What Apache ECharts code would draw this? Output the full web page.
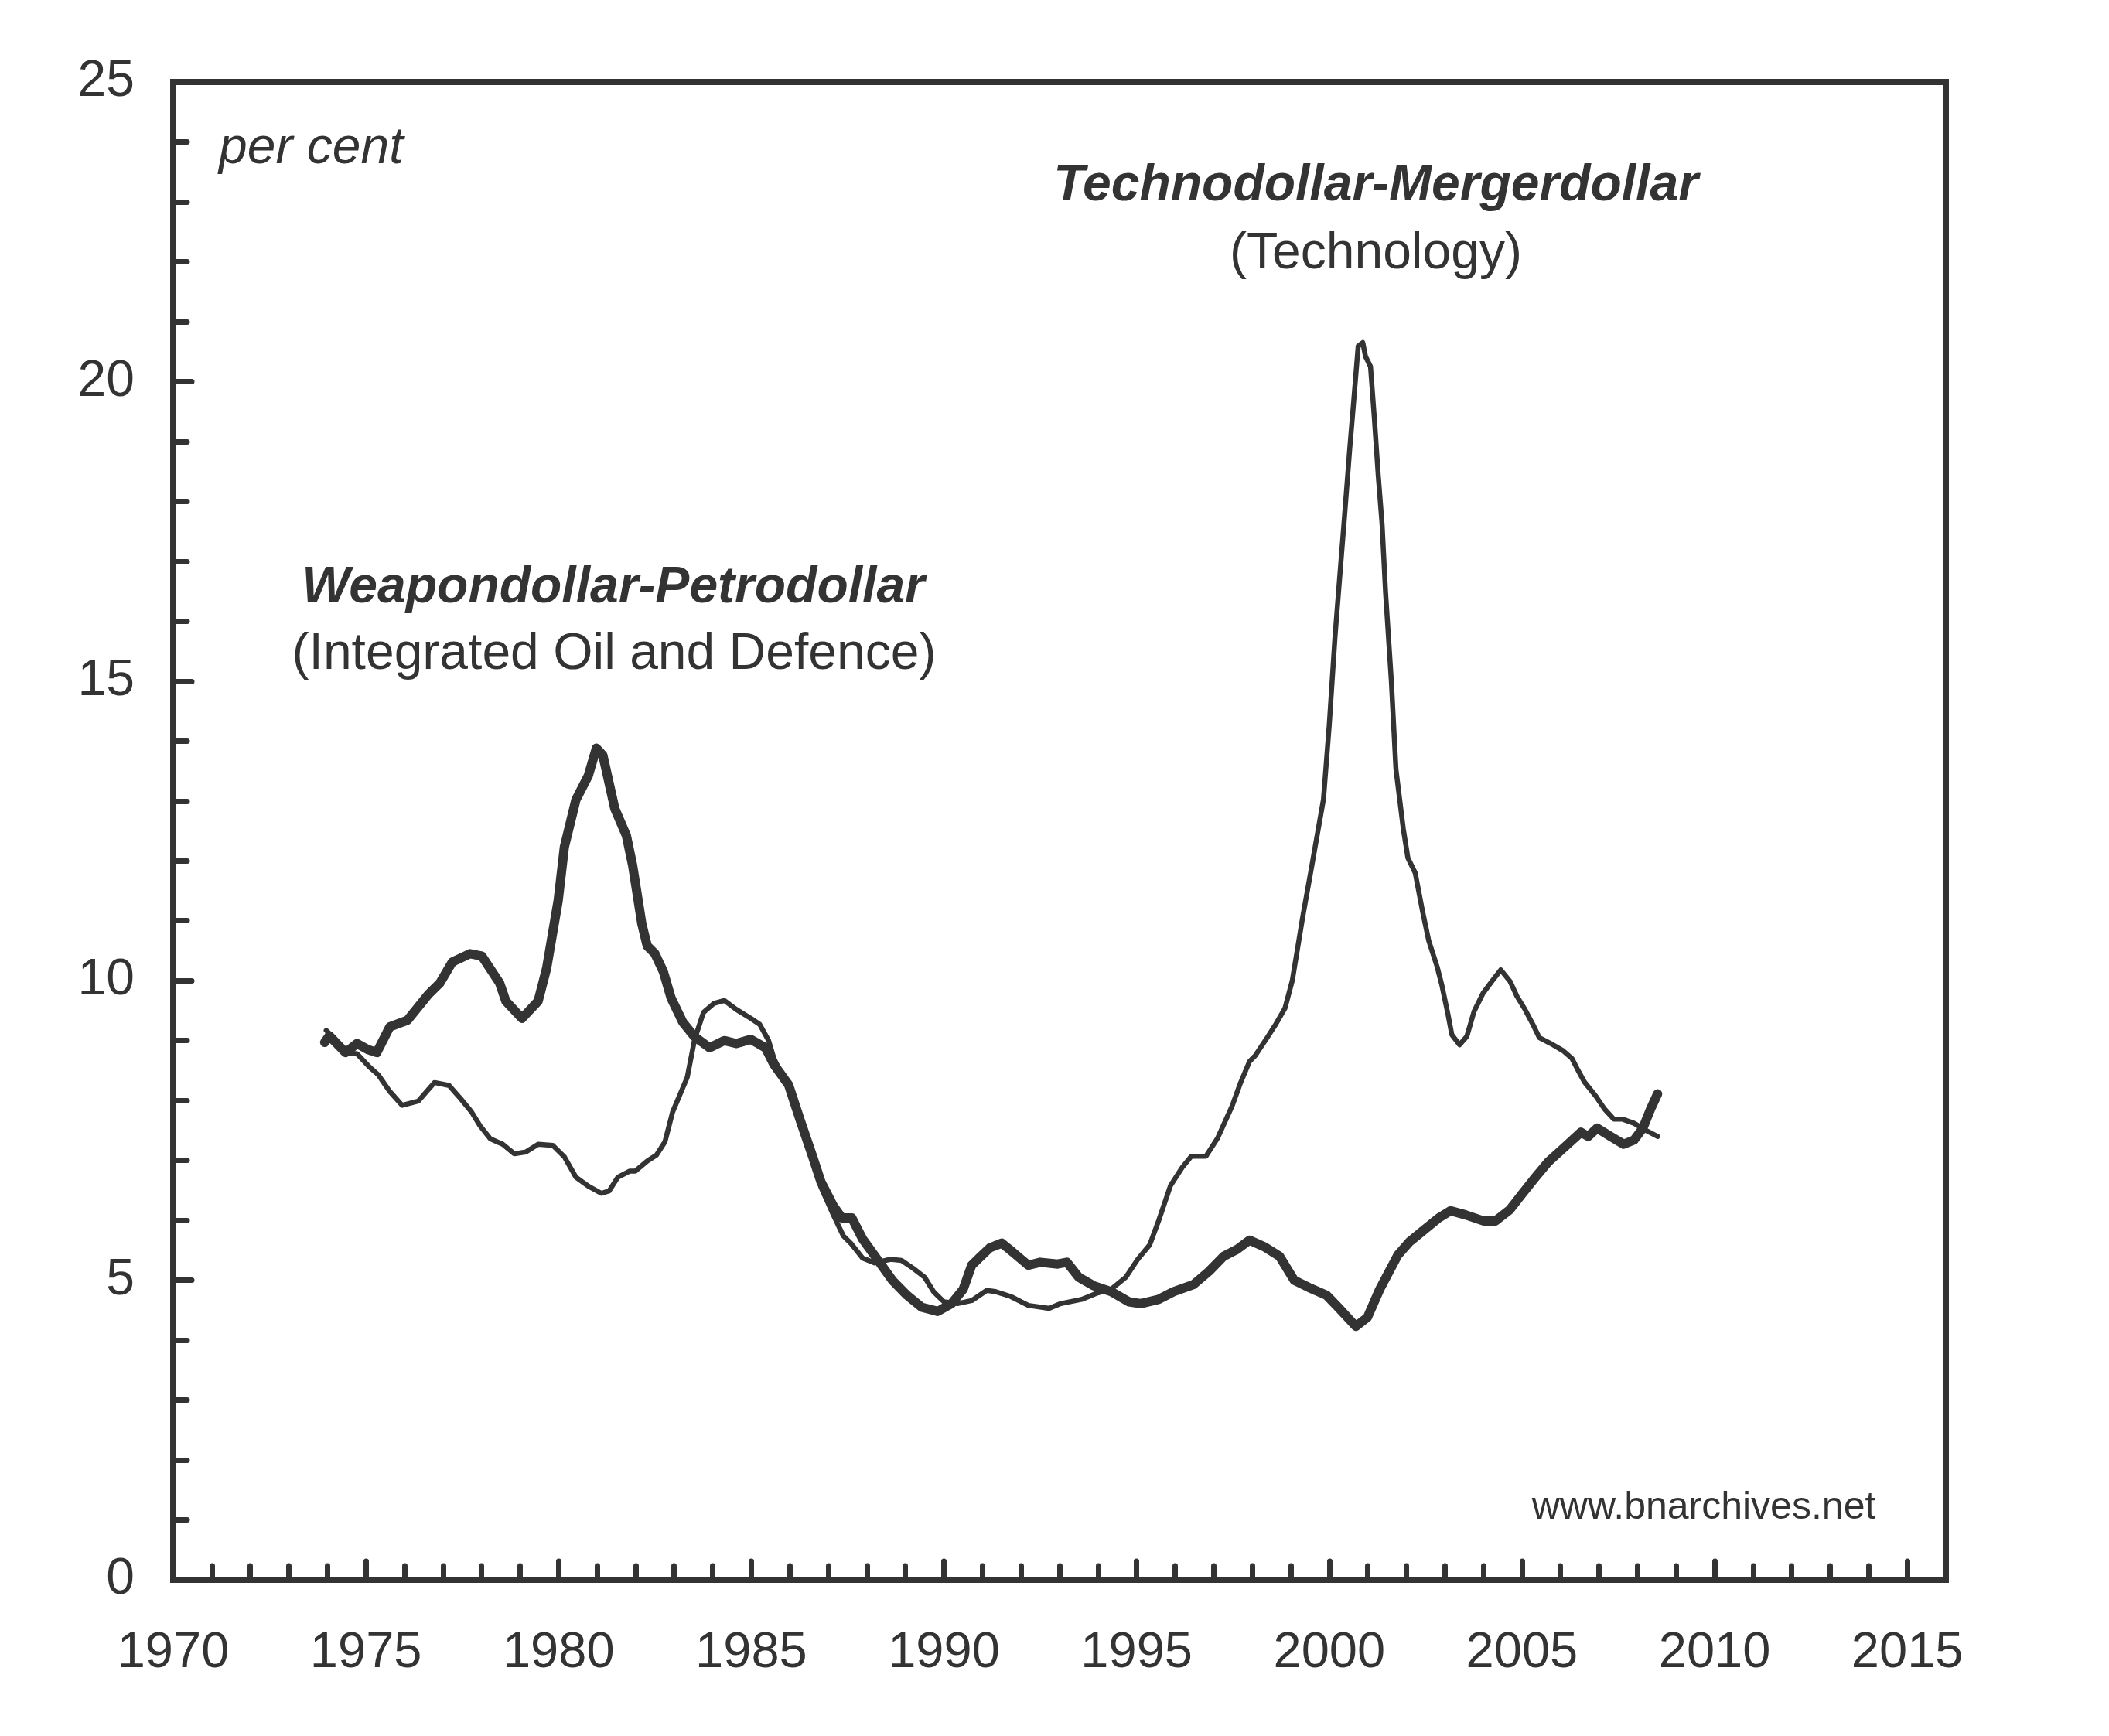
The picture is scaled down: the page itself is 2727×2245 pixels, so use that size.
<!DOCTYPE html>
<html>
<head>
<meta charset="utf-8">
<title>Weapondollar-Petrodollar vs Technodollar-Mergerdollar</title>
<script src="https://cdn.jsdelivr.net/npm/echarts@6/dist/echarts.min.js"></script>
<style>
    html, body { margin: 0; padding: 0; background: #fff; }
    #chart { width: 2727px; height: 2245px; }
</style>
</head>
<body>
<div id="chart"></div>
<script>
// Weapondollar-Petrodollar (thick line)
var oilYears = [1973.93, 1974.05, 1974.47, 1974.77, 1975.05, 1975.28, 1975.62, 1976.08, 1976.62, 1976.92,
    1977.24, 1977.70, 1978.01, 1978.47, 1978.63, 1979.05, 1979.47, 1979.69, 1979.99, 1980.15,
    1980.45, 1980.77, 1980.98, 1981.15, 1981.46, 1981.76, 1981.92, 1982.16, 1982.30, 1982.50,
    1982.72, 1982.92, 1983.22, 1983.52, 1983.92, 1984.30, 1984.61, 1984.99, 1985.37, 1985.59,
    1985.97, 1986.27, 1986.59, 1986.81, 1987.13, 1987.35, 1987.61, 1987.89, 1988.27, 1988.66,
    1989.04, 1989.42, 1989.84, 1990.20, 1990.50, 1990.72, 1990.96, 1991.19, 1991.50, 1991.73,
    1992.19, 1992.50, 1992.95, 1993.19, 1993.50, 1993.88, 1994.34, 1994.80, 1995.11, 1995.57,
    1995.96, 1996.48, 1996.88, 1997.26, 1997.62, 1997.93, 1998.31, 1998.71, 1999.09, 1999.47,
    1999.93, 2000.23, 2000.69, 2000.99, 2001.31, 2001.78, 2002.08, 2002.46, 2002.84, 2003.15,
    2003.54, 2004.00, 2004.31, 2004.69, 2004.99, 2005.30, 2005.69, 2006.07, 2006.53, 2006.72,
    2006.95, 2007.30, 2007.64, 2007.91, 2008.14, 2008.34, 2008.52];
var oilValues = [8.97, 9.08, 8.80, 8.95, 8.85, 8.80, 9.23, 9.34, 9.77, 9.96,
    10.31, 10.45, 10.41, 9.96, 9.66, 9.37, 9.66, 10.21, 11.34, 12.23,
    13.02, 13.42, 13.88, 13.76, 12.87, 12.42, 11.93, 10.95, 10.58, 10.45,
    10.15, 9.71, 9.31, 9.07, 8.88, 9.00, 8.95, 9.02, 8.88, 8.60,
    8.26, 7.67, 7.07, 6.64, 6.24, 6.04, 6.04, 5.69, 5.35, 5.00,
    4.75, 4.55, 4.48, 4.61, 4.85, 5.25, 5.40, 5.54, 5.62, 5.50,
    5.25, 5.30, 5.27, 5.30, 5.05, 4.91, 4.81, 4.64, 4.61, 4.68,
    4.81, 4.93, 5.15, 5.40, 5.52, 5.67, 5.56, 5.40, 5.00, 4.88,
    4.75, 4.55, 4.23, 4.38, 4.85, 5.42, 5.64, 5.84, 6.04, 6.16,
    6.09, 5.99, 5.99, 6.18, 6.43, 6.68, 6.98, 7.20, 7.47, 7.40,
    7.54, 7.40, 7.27, 7.34, 7.54, 7.86, 8.11];

// Technodollar-Mergerdollar (thin line)
var techYears = [1973.97, 1974.23, 1974.47, 1974.77, 1975.09, 1975.32, 1975.62, 1975.94, 1976.36, 1976.78,
    1977.16, 1977.46, 1977.74, 1977.96, 1978.23, 1978.55, 1978.85, 1979.15, 1979.47, 1979.85,
    1980.15, 1980.45, 1980.77, 1981.11, 1981.31, 1981.54, 1981.84, 1981.99, 1982.30, 1982.54,
    1982.76, 1982.96, 1983.15, 1983.34, 1983.53, 1983.76, 1984.03, 1984.30, 1984.61, 1984.99,
    1985.22, 1985.45, 1985.59, 1985.97, 1986.27, 1986.59, 1986.81, 1987.13, 1987.39, 1987.58,
    1987.89, 1988.20, 1988.62, 1988.90, 1989.20, 1989.50, 1989.73, 1990.00, 1990.35, 1990.72,
    1991.11, 1991.34, 1991.73, 1992.19, 1992.73, 1993.03, 1993.57, 1993.95, 1994.34, 1994.72,
    1995.03, 1995.34, 1995.57, 1995.88, 1996.18, 1996.42, 1996.80, 1997.10, 1997.48, 1997.70,
    1997.93, 1998.08, 1998.39, 1998.59, 1998.85, 1999.04, 1999.31, 1999.54, 1999.85, 2000.00,
    2000.15, 2000.27, 2000.39, 2000.53, 2000.63, 2000.75, 2000.87, 2000.94, 2001.07, 2001.17,
    2001.27, 2001.37, 2001.46, 2001.61, 2001.73, 2001.92, 2002.04, 2002.23, 2002.42, 2002.58,
    2002.80, 2002.92, 2003.08, 2003.18, 2003.38, 2003.57, 2003.76, 2003.99, 2004.22, 2004.45,
    2004.69, 2004.87, 2005.06, 2005.30, 2005.45, 2005.75, 2006.07, 2006.30, 2006.45, 2006.62,
    2006.92, 2007.14, 2007.38, 2007.60, 2007.91, 2008.22, 2008.52];
var techValues = [9.17, 9.00, 8.80, 8.78, 8.56, 8.43, 8.15, 7.92, 7.99, 8.30,
    8.25, 8.03, 7.81, 7.58, 7.36, 7.27, 7.11, 7.14, 7.27, 7.25,
    7.06, 6.72, 6.57, 6.45, 6.49, 6.72, 6.82, 6.82, 6.99, 7.09,
    7.31, 7.81, 8.10, 8.39, 9.02, 9.47, 9.62, 9.67, 9.52, 9.37,
    9.27, 9.00, 8.70, 8.20, 7.60, 7.00, 6.55, 6.09, 5.74, 5.62,
    5.37, 5.29, 5.35, 5.33, 5.20, 5.05, 4.81, 4.64, 4.61, 4.66,
    4.83, 4.81, 4.73, 4.58, 4.53, 4.61, 4.68, 4.78, 4.85, 5.05,
    5.35, 5.59, 5.99, 6.58, 6.88, 7.07, 7.07, 7.37, 7.91, 8.30,
    8.65, 8.75, 9.05, 9.25, 9.54, 10.00, 11.06, 11.89, 13.03, 14.27,
    15.75, 16.73, 17.70, 18.87, 19.64, 20.59, 20.65, 20.42, 20.25, 19.39,
    18.44, 17.62, 16.49, 15.01, 13.53, 12.54, 12.05, 11.80, 11.16, 10.67,
    10.23, 9.93, 9.44, 9.10, 8.93, 9.07, 9.49, 9.79, 9.99, 10.18,
    9.99, 9.74, 9.54, 9.25, 9.05, 8.95, 8.83, 8.70, 8.51, 8.31,
    8.07, 7.86, 7.69, 7.69, 7.62, 7.50, 7.40];

var yearMin = 1970, yearMax = 2016;
var valueMin = 0, valueMax = 25;

var ink = '#333333';
var fontFamily = '"Liberation Sans", Arial, Helvetica, sans-serif';

function pairs(xs, ys) {
    return xs.map(function (x, i) { return [x, ys[i]]; });
}

var gridBox = { left: 224, right: 211, top: 106, bottom: 202 };

var chart = echarts.init(document.getElementById('chart'));
var options = {
    animation: false,
    backgroundColor: '#ffffff',
    grid: [
        Object.assign({ show: true, borderColor: ink, borderWidth: 8, containLabel: false, outerBoundsMode: 'none' }, gridBox),
        Object.assign({ show: false, containLabel: false, outerBoundsMode: 'none' }, gridBox)
    ],
    xAxis: [
        {
            type: 'value', gridIndex: 0,
            min: yearMin, max: yearMax, interval: 5,
            axisLine: { show: true, onZero: false, lineStyle: { color: ink, width: 8 } },
            axisTick: { show: true, inside: true, length: 24, lineStyle: { color: ink, width: 7, cap: 'round' } },
            axisLabel: {
                show: true, margin: 63, color: ink, fontSize: 65, fontFamily: fontFamily,
                showMaxLabel: false,
                formatter: function (v) { return v % 5 === 0 ? String(v) : ''; }
            },
            splitLine: { show: false }
        },
        {
            // yearly ticks
            type: 'value', gridIndex: 1,
            min: yearMin, max: yearMax, interval: 1,
            axisLine: { show: false, onZero: false },
            axisTick: { show: true, inside: true, length: 18, lineStyle: { color: ink, width: 7, cap: 'round' } },
            axisLabel: { show: false },
            splitLine: { show: false }
        }
    ],
    yAxis: [
        {
            type: 'value', gridIndex: 0,
            min: valueMin, max: valueMax, interval: 5,
            axisLine: { show: true, onZero: false, lineStyle: { color: ink, width: 8 } },
            axisTick: { show: true, inside: true, length: 24, lineStyle: { color: ink, width: 7, cap: 'round' } },
            minorTick: { show: true, splitNumber: 5, length: 18, lineStyle: { color: ink, width: 7, cap: 'round' } },
            axisLabel: { show: true, margin: 50, color: ink, fontSize: 66, fontFamily: fontFamily },
            splitLine: { show: false },
            minorSplitLine: { show: false }
        },
        {
            type: 'value', gridIndex: 1, show: false,
            min: valueMin, max: valueMax
        }
    ],
    series: [
        {
            name: 'Technodollar-Mergerdollar',
            type: 'line',
            xAxisIndex: 0, yAxisIndex: 0,
            showSymbol: false, symbol: 'none',
            smooth: false,
            data: pairs(techYears, techValues),
            lineStyle: { color: ink, width: 6.5, cap: 'round', join: 'round' }
        },
        {
            name: 'Weapondollar-Petrodollar',
            type: 'line',
            xAxisIndex: 0, yAxisIndex: 0,
            showSymbol: false, symbol: 'none',
            smooth: false,
            data: pairs(oilYears, oilValues),
            lineStyle: { color: ink, width: 12, cap: 'round', join: 'round' }
        }
    ],
    graphic: [
        {
            type: 'text', x: 283, y: 193,
            style: { text: 'per cent', fill: ink, fontSize: 66, fontStyle: 'italic', fontFamily: fontFamily, align: 'left', verticalAlign: 'middle' }
        },
        {
            type: 'text', x: 1779, y: 241,
            style: { text: 'Technodollar-Mergerdollar', fill: ink, fontSize: 66, fontStyle: 'italic', fontWeight: 'bold', fontFamily: fontFamily, align: 'center', verticalAlign: 'middle' }
        },
        {
            type: 'text', x: 1779, y: 329,
            style: { text: '(Technology)', fill: ink, fontSize: 66, fontFamily: fontFamily, align: 'center', verticalAlign: 'middle' }
        },
        {
            type: 'text', x: 793, y: 761,
            style: { text: 'Weapondollar-Petrodollar', fill: ink, fontSize: 66, fontStyle: 'italic', fontWeight: 'bold', fontFamily: fontFamily, align: 'center', verticalAlign: 'middle' }
        },
        {
            type: 'text', x: 794, y: 847,
            style: { text: '(Integrated Oil and Defence)', fill: ink, fontSize: 66, fontFamily: fontFamily, align: 'center', verticalAlign: 'middle' }
        },
        {
            type: 'text', x: 2203, y: 1950,
            style: { text: 'www.bnarchives.net', fill: ink, fontSize: 50, fontFamily: fontFamily, align: 'center', verticalAlign: 'middle' }
        }
    ]
};
chart.setOption(options);
</script>
</body>
</html>
